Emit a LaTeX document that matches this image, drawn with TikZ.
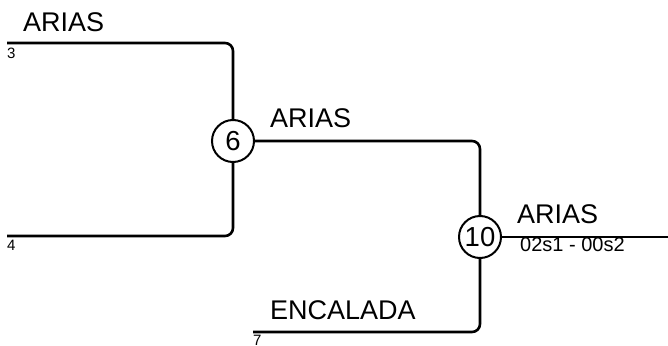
\documentclass[tikz,border=0pt]{standalone}
\usepackage{fontspec}
\setmainfont{Liberation Sans}
\tikzset{
  wire/.style={line width=2.6pt, rounded corners=8pt},
  game/.style={circle, draw, line width=2pt, minimum size=42pt, inner sep=0pt, fill=white, font=\fontsize{27.5}{27.5}\selectfont},
  team/.style={anchor=base west, inner sep=0pt, font=\fontsize{27}{27}\selectfont},
  seed/.style={anchor=base west, inner sep=0pt, font=\fontsize{15}{15}\selectfont},
  score/.style={anchor=base west, inner sep=0pt, font=\fontsize{20}{20}\selectfont},
}
\begin{document}
\begin{tikzpicture}[x=1pt, y=-1pt]
  \useasboundingbox (0,0) rectangle (668,345);

  \node[game] (m6) at (233,141) {6};
  \node[game] (m10) at (480,237) {10};

  \coordinate (s3) at (7,43);
  \coordinate (s4) at (7,236);
  \coordinate (s7) at (253,332);
  \coordinate (out) at (668,237);

  \draw[wire] (s3) -- (s3 -| m6) -- (m6);
  \draw[wire] (s4) -- (s4 -| m6) -- (m6);
  \draw[wire] (m6) -- (m6 -| m10) -- (m10);
  \draw[wire] (s7) -- (s7 -| m10) -- (m10);
  \draw[wire] (m10) -- (out);

  \node[team] (t3) at (23,32) {ARIAS};
  \node[seed] (n3) at (7,59) {3};
  \node[seed] (n4) at (7,250) {4};
  \node[team] (t6) at (270,127) {ARIAS};
  \node[team] (t10) at (517,223) {ARIAS};
  \node[score] (sc10) at (520,251) {02s1 - 00s2};
  \node[team] (t7) at (270,319) {ENCALADA};
  \node[seed] (n7) at (253,345) {7};
\end{tikzpicture}
\end{document}
